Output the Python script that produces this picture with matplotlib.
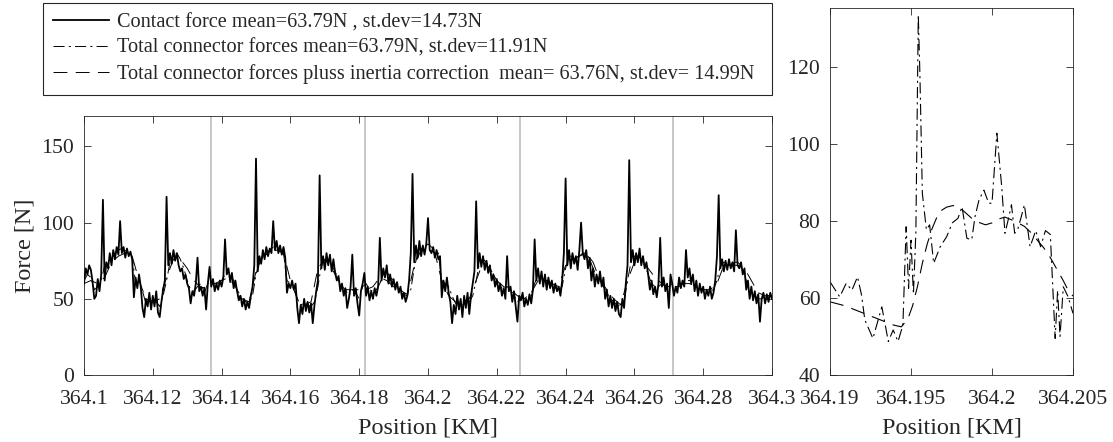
import numpy as np
import matplotlib
matplotlib.use("Agg")
import matplotlib.pyplot as plt

plt.rcParams['font.family'] = ['Liberation Serif', 'DejaVu Serif']
plt.rcParams['lines.scale_dashes'] = False
plt.rcParams['text.color'] = '#262626'
plt.rcParams['axes.labelcolor'] = '#262626'
plt.rcParams['xtick.color'] = '#262626'
plt.rcParams['ytick.color'] = '#262626'

# ---- data: long section, 364.1 .. 364.3 km ----
start_km, end_km = 364.1, 364.3

# contact force, one value every 0.5 m (20 values per 10 m row)
contact_force = [
    60, 70, 66, 72, 69, 61, 50, 52, 63, 55, 66, 115, 62, 74, 70, 80, 72, 82, 76, 84,
    79, 101, 80, 84, 77, 83, 78, 81, 76, 51, 64, 57, 66, 58, 44, 38, 50, 45, 54, 43,
    52, 45, 55, 41, 38, 48, 56, 62, 117, 72, 80, 73, 82, 75, 80, 72, 68, 70, 63, 66,
    60, 57, 47, 55, 52, 60, 77, 55, 58, 52, 57, 43, 60, 71, 58, 63, 55, 60, 56, 62,
    58, 64, 89, 66, 70, 61, 67, 57, 62, 55, 49, 52, 45, 50, 43, 48, 44, 52, 58, 72,
    142, 68, 78, 73, 82, 76, 84, 78, 83, 80, 101, 82, 88, 80, 85, 79, 84, 77, 54, 60,
    57, 62, 56, 60, 44, 34, 46, 40, 50, 42, 48, 41, 47, 34, 46, 55, 62, 131, 70, 78,
    69, 80, 72, 79, 68, 76, 67, 62, 65, 55, 60, 52, 57, 44, 50, 58, 79, 52, 57, 47,
    39, 55, 60, 67, 52, 58, 49, 55, 50, 57, 52, 58, 90, 62, 70, 64, 72, 60, 66, 58,
    63, 56, 61, 54, 58, 50, 54, 48, 52, 62, 80, 132, 74, 85, 77, 88, 78, 85, 79, 86,
    103, 82, 80, 84, 77, 82, 76, 78, 51, 62, 55, 64, 54, 48, 34, 46, 40, 52, 43, 50,
    38, 52, 44, 54, 40, 52, 60, 68, 114, 70, 80, 71, 78, 69, 75, 67, 72, 62, 66, 58,
    63, 55, 60, 52, 57, 50, 78, 55, 58, 48, 55, 45, 35, 52, 49, 54, 45, 50, 46, 53,
    47, 56, 89, 62, 70, 60, 68, 58, 66, 56, 64, 57, 62, 54, 60, 55, 58, 52, 62, 80,
    129, 72, 82, 70, 80, 73, 78, 69, 82, 100, 80, 76, 82, 70, 77, 62, 70, 58, 66, 60,
    68, 58, 64, 50, 56, 45, 52, 44, 50, 42, 48, 40, 38, 50, 44, 60, 72, 141, 74, 82,
    72, 80, 74, 83, 72, 78, 70, 74, 66, 56, 62, 53, 58, 51, 60, 90, 58, 64, 55, 60,
    44, 66, 60, 52, 58, 54, 64, 57, 62, 58, 82, 64, 70, 60, 66, 55, 62, 52, 60, 54,
    58, 50, 56, 52, 58, 50, 54, 62, 78, 118, 70, 76, 68, 75, 69, 76, 70, 74, 68, 95,
    72, 70, 74, 66, 70, 56, 62, 50, 58, 49, 55, 47, 53, 35, 50, 54, 47, 53, 48, 54,
    50,
]

# total connector forces, one value per metre
connector_force = [
    62, 66, 64, 56, 58, 62, 72, 74, 78, 80,
    82, 83, 82, 80, 78, 60, 60, 55, 47, 48,
    50, 48, 45, 52, 62, 74, 78, 80, 76, 70,
    62, 56, 55, 58, 60, 54, 60, 62, 60, 60,
    62, 66, 68, 64, 60, 52, 50, 48, 48, 52,
    66, 74, 78, 80, 82, 84, 84, 82, 80, 62,
    60, 58, 50, 46, 47, 46, 45, 48, 58, 72,
    76, 76, 72, 68, 62, 58, 56, 52, 56, 54,
    50, 58, 60, 56, 55, 56, 60, 66, 68, 64,
    62, 58, 56, 54, 53, 56, 70, 80, 83, 84,
    86, 84, 82, 80, 62, 60, 58, 52, 47, 48,
    46, 47, 48, 52, 62, 74, 76, 74, 70, 66,
    62, 58, 56, 58, 56, 52, 48, 50, 50, 52,
    52, 60, 66, 64, 62, 62, 60, 58, 56, 58,
    70, 78, 78, 77, 78, 80, 80, 76, 70, 64,
    62, 58, 54, 50, 48, 46, 45, 48, 62, 74,
    78, 78, 76, 72, 66, 60, 58, 58, 60, 58,
    58, 60, 58, 58, 60, 62, 62, 60, 58, 56,
    56, 55, 55, 56, 62, 72, 74, 74, 72, 74,
    74, 72, 66, 58, 54, 52, 50, 50, 52, 52,
    52,
]

# connector forces plus inertia correction, one value every 2 m
inertia_force = [
    60, 62, 60, 64, 74, 78, 80, 78, 62, 50,
    48, 50, 64, 76, 76, 70, 62, 57, 58, 60,
    62, 64, 58, 50, 48, 68, 78, 80, 82, 80,
    62, 50, 46, 48, 70, 76, 70, 62, 56, 56,
    56, 56, 58, 64, 62, 58, 54, 52, 72, 82,
    83, 80, 62, 52, 48, 48, 50, 62, 74, 70,
    62, 58, 56, 52, 50, 54, 62, 62, 60, 58,
    72, 76, 78, 80, 74, 62, 56, 50, 46, 62,
    74, 74, 70, 64, 60, 58, 58, 60, 60, 58,
    56, 56, 60, 72, 72, 72, 70, 62, 54, 52,
    52,
]

# span markers [km]
span_marks = [364.1368, 364.1817, 364.2266, 364.2712]

# ---- data: detail 364.19 .. 364.205 km (offsets in metres from 364.19) ----
detail_start = 364.19
detail_dd_m = [0.0, 0.6, 1.0, 1.35, 1.7, 1.95, 2.15, 2.65, 3.2, 3.6, 3.9, 4.2, 4.5, 4.7,
               4.85, 5.0, 5.15, 5.3, 5.45, 5.55, 5.7, 5.95, 6.15, 6.4, 6.8, 7.2, 7.55,
               7.9, 8.15, 8.45, 8.75, 8.95, 9.2, 9.5, 9.8, 10.0, 10.3, 10.6, 10.8, 11.0,
               11.2, 11.4, 11.6, 11.8, 12.0, 12.35, 12.7, 13.0, 13.3, 13.6, 13.9, 14.05,
               14.2, 14.4, 14.7, 15.0]
detail_dd_f = [64.2, 60.3, 63.8, 62, 65.5, 60.7, 54.3, 49.5, 57.7, 48.7, 51.7, 48.7, 53,
               78.5, 62.5, 75, 61, 77, 133.5, 118, 87.2, 77.7, 79, 69, 73.3, 75.9, 79.5,
               80.7, 83.7, 75.5, 75.1, 81.1, 85.5, 88, 84.6, 84.6, 102.8, 88.9, 76.8,
               80.3, 84.2, 76.8, 78, 81, 84.2, 73.3, 77.5, 73.3, 77.5, 76.5, 49.5, 62,
               50, 62.9, 60.3, 56]
detail_da_m = [0.0, 0.9, 1.5, 2.1, 2.7, 3.3, 3.9, 4.4, 4.8, 5.1, 5.4, 5.7, 6.0, 6.3, 6.6,
               6.9, 7.2, 7.6, 8.0, 8.4, 8.8, 9.2, 9.6, 10.0, 10.4, 10.8, 11.2, 11.6,
               12.0, 12.4, 12.8, 13.2, 13.6, 14.0, 14.4, 14.7, 15.0]
detail_da_f = [59, 58, 57, 56, 55, 54, 53, 52.5, 54.5, 58, 63, 69, 74, 78, 81, 82.8, 83.6,
               84, 83.5, 82, 80.5, 79.6, 79, 79.5, 80.5, 81, 80.3, 79.5, 78.6, 77, 75, 73,
               70.5, 67.5, 64.5, 62, 60.5]

labels = ['Contact force mean=63.79N , st.dev=14.73N',
          'Total connector forces mean=63.79N, st.dev=11.91N',
          'Total connector forces pluss inertia correction  mean= 63.76N, st.dev= 14.99N']

dashdot = (0, (8, 3, 1.5, 3))
dashed = (0, (10, 6))
tick_fs = 15.6
label_fs = 17.4

fig = plt.figure(figsize=(11.13, 4.42), dpi=100)
ax = fig.add_axes([84 / 1113, 67 / 442, 688 / 1113, 259 / 442])
ax2 = fig.add_axes([830 / 1113, 67 / 442, 243 / 1113, 367 / 442])

x_cf = np.linspace(start_km, end_km, len(contact_force))
x_con = np.linspace(start_km, end_km, len(connector_force))
x_in = np.linspace(start_km, end_km, len(inertia_force))

for xm in span_marks:
    ax.axvline(xm, color='#bdbdbd', lw=1.2, zorder=1)
l1, = ax.plot(x_cf, contact_force, color='black', lw=1.3, zorder=4)
l2, = ax.plot(x_con, connector_force, color='black', lw=0.7, linestyle=dashdot, zorder=3)
l3, = ax.plot(x_in, inertia_force, color='black', lw=0.7, linestyle=dashed, zorder=3)

ax.set_xlim(start_km, end_km)
ax.set_ylim(0, 170)
ax.set_xticks(np.round(np.arange(364.1, 364.3001, 0.02), 2))
ax.set_yticks([0, 50, 100, 150])
ax.xaxis.set_major_formatter(plt.FormatStrFormatter('%g'))
ax.set_xlabel('Position [KM]', fontsize=label_fs, labelpad=6)
ax.set_ylabel('Force [N]', fontsize=label_fs, labelpad=4)

ax2.plot(detail_start + np.array(detail_dd_m) / 1000, detail_dd_f, color='black', lw=0.8,
         linestyle=dashdot)
ax2.plot(detail_start + np.array(detail_da_m) / 1000, detail_da_f, color='black', lw=0.8,
         linestyle=dashed)
ax2.set_xlim(364.19, 364.205)
ax2.set_ylim(40, 135.3)
ax2.set_xticks([364.19, 364.195, 364.2, 364.205])
ax2.set_yticks([40, 60, 80, 100, 120])
ax2.xaxis.set_major_formatter(plt.FormatStrFormatter('%g'))
ax2.set_xlabel('Position [KM]', fontsize=label_fs, labelpad=6)

for a in (ax, ax2):
    a.tick_params(direction='in', length=5, width=0.6, labelsize=tick_fs,
                  top=True, right=True)
    a.tick_params(axis='x', pad=11)
    a.tick_params(axis='y', pad=7)
    for sp in a.spines.values():
        sp.set_color('#262626')
        sp.set_linewidth(0.6)

leg = fig.legend([l1, l2, l3], labels, loc='upper left',
                 bbox_to_anchor=(43 / 1113, 1 - 92 / 442, 729 / 1113, 89 / 442),
                 mode='expand', borderaxespad=0, fontsize=14.6, handlelength=2.75,
                 handletextpad=0.4, labelspacing=0.32, borderpad=0.5, fancybox=False,
                 framealpha=1, edgecolor='#262626')
leg.get_frame().set_linewidth(0.8)

fig.savefig('out.png', dpi=100)
